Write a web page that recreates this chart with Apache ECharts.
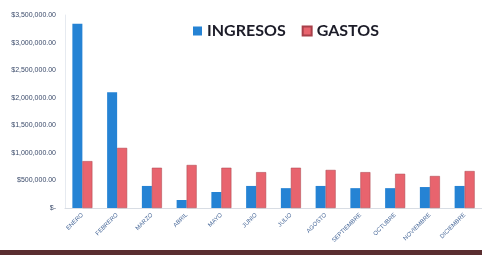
<!DOCTYPE html>
<html><head><meta charset="utf-8">
<script src="https://cdn.jsdelivr.net/npm/echarts@6/dist/echarts.min.js"></script>
<style>html,body{margin:0;padding:0;background:#fff}#c{width:482px;height:255px}</style>
</head><body><div id="c"></div>
<script>
const months = ['ENERO','FEBRERO','MARZO','ABRIL','MAYO','JUNIO','JULIO','AGOSTO','SEPTIEMBRE','OCTUBRE','NOVIEMBRE','DICIEMBRE'];
const ingresos = [3340000, 2100000, 400000, 145000, 290000, 400000, 360000, 400000, 360000, 360000, 380000, 400000];
const gastos = [850000, 1090000, 730000, 780000, 730000, 650000, 730000, 690000, 650000, 620000, 580000, 670000];
const yMin = 0, yMax = 3500000, yStep = 500000;

const chart = echarts.init(document.getElementById('c'));
chart.setOption({
  animation: false,
  backgroundColor: '#fff',
  legend: {
    left: 188, top: 18, icon: 'rect', itemWidth: 9, itemHeight: 9, itemGap: 16,
    textStyle: {fontFamily: 'Lato', fontWeight: 'bold', fontSize: 16, color: '#1c1c28'},
    data: ['INGRESOS', 'GASTOS']
  },
  grid: {left: 65, right: -6, top: 15, bottom: 47},
  xAxis: {
    type: 'category', data: months,
    axisLine: {show: true, lineStyle: {color: '#d8dde4'}},
    axisTick: {show: false},
    axisLabel: {rotate: 45, fontSize: 6, color: '#4a6a9a', fontFamily: 'Liberation Sans', margin: 6, interval: 0}
  },
  yAxis: {
    type: 'value', min: yMin, max: yMax, interval: yStep,
    axisLine: {show: true, lineStyle: {color: '#e6eaf0'}},
    axisTick: {show: false},
    splitLine: {show: false},
    axisLabel: {
      fontSize: 7, color: '#3a4a6a', fontFamily: 'Liberation Sans', margin: 9,
      formatter: v => v === 0 ? '$-' : '$' + v.toLocaleString('en-US', {minimumFractionDigits: 2, maximumFractionDigits: 2})
    }
  },
  series: [
    {name: 'INGRESOS', type: 'bar', data: ingresos, barWidth: 10, barGap: '0%',
     itemStyle: {color: '#2583d4'}},
    {name: 'GASTOS', type: 'bar', data: gastos, barWidth: 10, barGap: '0%',
     itemStyle: {color: '#e8646e', borderColor: '#a8404a', borderWidth: 0.5}}
  ],
  graphic: [{type: 'rect', left: 0, top: 250, shape: {width: 482, height: 5}, style: {fill: '#5a2e30'}, silent: true}]
});
</script></body></html>
